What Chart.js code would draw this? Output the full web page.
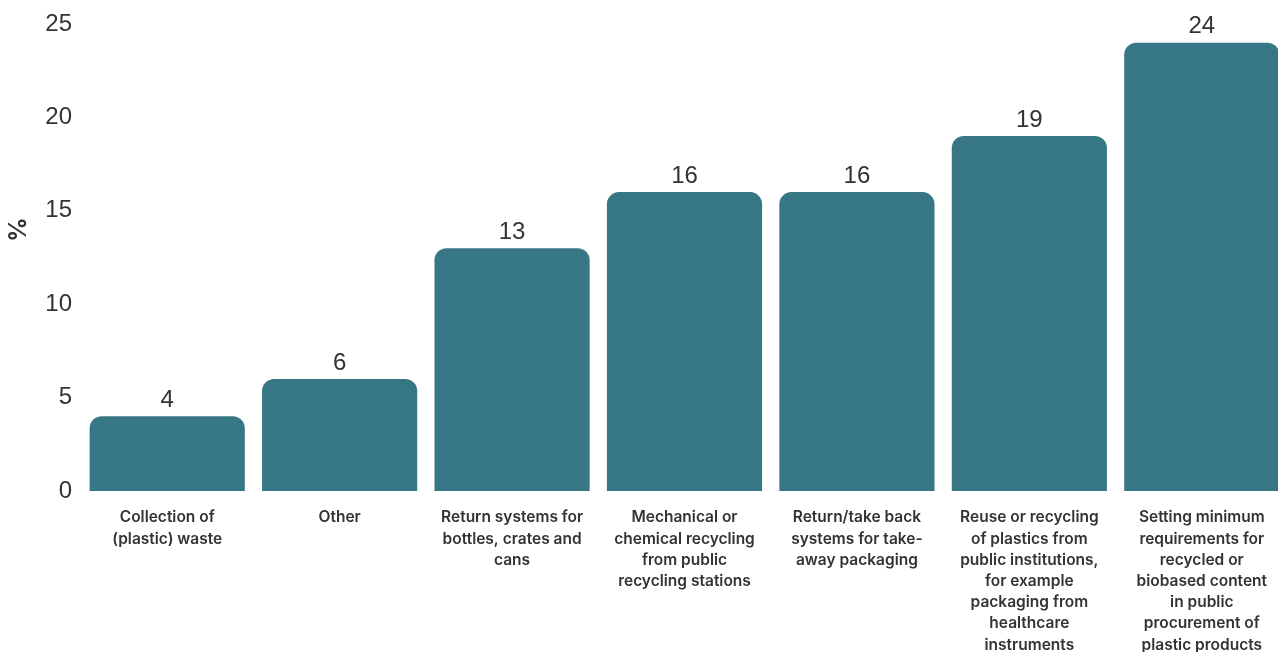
<!DOCTYPE html>
<html>
<head>
<meta charset="utf-8">
<script src="https://cdn.jsdelivr.net/npm/chart.js@4"></script>
<style>
  html, body { margin: 0; padding: 0; background: #ffffff; overflow: hidden; }
  #wrap { width: 1290px; height: 652px; position: relative; }
</style>
</head>
<body>
<div id="wrap"><canvas id="c"></canvas></div>
<script>
const categories = [
  ["Collection of", "(plastic) waste"],
  ["Other"],
  ["Return systems for", "bottles, crates and", "cans"],
  ["Mechanical or", "chemical recycling", "from public", "recycling stations"],
  ["Return/take back", "systems for take-", "away packaging"],
  ["Reuse or recycling", "of plastics from", "public institutions,", "for example", "packaging from", "healthcare", "instruments"],
  ["Setting minimum", "requirements for", "recycled or", "biobased content", "in public", "procurement of", "plastic products"]
];
const values = [4, 6, 13, 16, 16, 19, 24];
const yTicks = [0, 5, 10, 15, 20, 25];
const yTitle = "%";

const valueLabels = {
  id: 'valueLabels',
  afterDatasetsDraw(chart) {
    const ctx = chart.ctx;
    const meta = chart.getDatasetMeta(0);
    ctx.save();
    ctx.font = '24px "Liberation Sans", Arial, sans-serif';
    ctx.fillStyle = '#333333';
    ctx.textAlign = 'center';
    ctx.textBaseline = 'middle';
    meta.data.forEach((bar, i) => {
      ctx.fillText(String(values[i]), bar.x, bar.y - 16);
    });
    ctx.restore();
  }
};

const yTitlePlugin = {
  id: 'yTitlePlugin',
  afterDraw(chart) {
    const ctx = chart.ctx;
    const yScale = chart.scales.y;
    const cy = yScale.getPixelForValue(14);
    ctx.save();
    ctx.translate(19, cy);
    ctx.rotate(-Math.PI / 2);
    ctx.font = 'bold 24px Inter, "Liberation Sans", sans-serif';
    ctx.fillStyle = '#333333';
    ctx.textAlign = 'center';
    ctx.textBaseline = 'middle';
    ctx.fillText(yTitle, 0, 0);
    ctx.restore();
  }
};

new Chart(document.getElementById('c'), {
  type: 'bar',
  data: {
    labels: categories,
    datasets: [{
      data: values,
      backgroundColor: '#377684',
      borderRadius: { topLeft: 12, topRight: 12, bottomLeft: 0, bottomRight: 0 },
      borderSkipped: 'bottom',
      barPercentage: 0.9,
      categoryPercentage: 1.0
    }]
  },
  options: {
    responsive: true,
    maintainAspectRatio: false,
    animation: false,
    layout: { padding: { top: 24, right: 2, left: 0, bottom: 0 } },
    plugins: { legend: { display: false }, tooltip: { enabled: false } },
    scales: {
      x: {
        grid: { display: false, drawTicks: false },
        border: { display: false },
        ticks: {
          autoSkip: false, maxRotation: 0, minRotation: 0,
          color: '#333333',
          padding: 16,
          font: { family: 'Inter, "Liberation Sans", sans-serif', size: 15.5, weight: '600', lineHeight: 1.37 }
        },
        afterFit(scale) { scale.height = 161; }
      },
      y: {
        min: 0, max: 25,
        grid: { display: false, drawTicks: false },
        border: { display: false },
        afterBuildTicks(scale) { scale.ticks = yTicks.map(v => ({ value: v })); },
        ticks: {
          color: '#333333',
          padding: 9,
          font: { family: '"Liberation Sans", Arial, sans-serif', size: 24 }
        },
        afterFit(scale) { scale.width = 81; }
      }
    }
  },
  plugins: [valueLabels, yTitlePlugin]
});
</script>
</body>
</html>
